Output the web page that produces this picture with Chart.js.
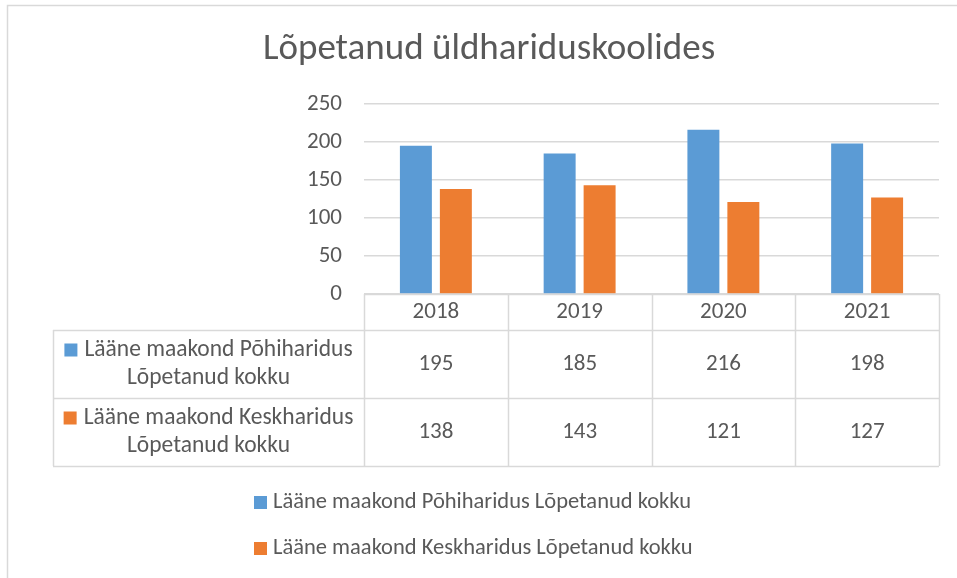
<!DOCTYPE html>
<html>
<head>
<meta charset="utf-8">
<script src="https://cdn.jsdelivr.net/npm/chart.js@4.4.1/dist/chart.umd.min.js"></script>
<style>
  html, body { margin: 0; padding: 0; background: #fff; }
  #wrap { width: 957px; height: 578px; position: relative; }
</style>
</head>
<body>
<div id="wrap"><canvas id="chart" width="957" height="578"></canvas></div>
<script>
// Chart data
const chartTitle = 'Lõpetanud üldhariduskoolides';
const years = ['2018', '2019', '2020', '2021'];
const seriesNames = [
    'Lääne maakond Põhiharidus Lõpetanud kokku',
    'Lääne maakond Keskharidus Lõpetanud kokku'
];
const rowLabelLines = [
    ['Lääne maakond Põhiharidus', 'Lõpetanud kokku'],
    ['Lääne maakond Keskharidus', 'Lõpetanud kokku']
];
const pohiharidus = [195, 185, 216, 198];
const keskharidus = [138, 143, 121, 127];
const seriesColors = ['#5B9BD5', '#ED7D31'];

const FONT = 'Calibri, Carlito, "Liberation Sans", sans-serif';
const TEXT = '#595959';
const LINE = '#D9D9D9';

/**
 * Draws title, outer border, data table and legend (Excel-like)
 */
const excelExtras = {
    id: 'excelExtras',
    beforeDraw(chart) {
        const ctx = chart.ctx;
        ctx.save();
        ctx.fillStyle = '#fff';
        ctx.fillRect(0, 0, chart.width, chart.height);
        // outer border
        ctx.strokeStyle = LINE;
        ctx.lineWidth = 1.5;
        ctx.beginPath();
        ctx.moveTo(7.5, chart.height);
        ctx.lineTo(7.5, 5.5);
        ctx.lineTo(chart.width, 5.5);
        ctx.stroke();
        ctx.restore();
    },
    afterDraw(chart) {
        const ctx = chart.ctx;
        const x = chart.scales.x;
        const area = chart.chartArea;
        const colW = (area.right - area.left) / years.length;
        const tableLeft = 53;
        const headerBottom = area.bottom + 36;
        const rowH = 68;

        ctx.save();

        // title
        ctx.fillStyle = TEXT;
        ctx.font = '37px ' + FONT;
        ctx.textAlign = 'center';
        ctx.textBaseline = 'middle';
        ctx.fillText(chartTitle, 489, 50);

        // table lines
        ctx.strokeStyle = LINE;
        ctx.lineWidth = 1.5;
        ctx.beginPath();
        for (let i = 0; i <= years.length; i++) {
            const lx = Math.round(area.left + i * colW) + 0.5;
            ctx.moveTo(lx, area.bottom);
            ctx.lineTo(lx, headerBottom + rowH * seriesNames.length);
        }
        for (let r = 0; r <= seriesNames.length; r++) {
            const ly = headerBottom + r * rowH + 0.5;
            ctx.moveTo(tableLeft, ly);
            ctx.lineTo(area.right, ly);
        }
        ctx.moveTo(tableLeft + 0.5, headerBottom);
        ctx.lineTo(tableLeft + 0.5, headerBottom + rowH * seriesNames.length);
        ctx.moveTo(area.left, area.bottom + 0.5);
        ctx.lineTo(area.right, area.bottom + 0.5);
        ctx.stroke();

        // header years
        ctx.fillStyle = TEXT;
        ctx.font = '23px ' + FONT;
        years.forEach((y, i) => {
            ctx.fillText(y, x.getPixelForValue(i), area.bottom + 18);
        });

        // values
        const allSeries = [pohiharidus, keskharidus];
        allSeries.forEach((vals, r) => {
            const cy = headerBottom + r * rowH + rowH / 2;
            ctx.font = '23px ' + FONT;
            vals.forEach((v, i) => {
                ctx.fillText(String(v), x.getPixelForValue(i), cy);
            });

            // row label with colour box
            ctx.font = '23.5px ' + FONT;
            const lines = rowLabelLines[r];
            const cx = (tableLeft + area.left) / 2;
            const box = 13, gap = 7;
            const w1 = ctx.measureText(lines[0]).width + box + gap;
            const sx = cx - w1 / 2;
            ctx.fillStyle = seriesColors[r];
            ctx.fillRect(sx, cy - 14 - box / 2, box, box);
            ctx.fillStyle = TEXT;
            ctx.textAlign = 'left';
            ctx.fillText(lines[0], sx + box + gap, cy - 14);
            ctx.textAlign = 'center';
            ctx.fillText(lines[1], cx, cy + 14);
        });

        // legend
        ctx.font = '22.5px ' + FONT;
        ctx.textAlign = 'left';
        seriesNames.forEach((name, r) => {
            const ly = 502 + r * 46;
            ctx.fillStyle = seriesColors[r];
            ctx.fillRect(254, ly - 6, 13, 13);
            ctx.fillStyle = TEXT;
            ctx.fillText(name, 273, ly);
        });

        ctx.restore();
    }
};

new Chart(document.getElementById('chart'), {
    type: 'bar',
    data: {
        labels: years,
        datasets: [{
            label: seriesNames[0],
            data: pohiharidus,
            backgroundColor: seriesColors[0]
        }, {
            label: seriesNames[1],
            data: keskharidus,
            backgroundColor: seriesColors[1]
        }]
    },
    options: {
        responsive: false,
        animation: false,
        layout: {
            padding: { left: 0, right: 18, top: 104, bottom: 284 }
        },
        datasets: {
            bar: { categoryPercentage: 0.556, barPercentage: 0.8 }
        },
        plugins: {
            legend: { display: false },
            title: { display: false },
            tooltip: { enabled: false }
        },
        scales: {
            x: {
                display: false
            },
            y: {
                min: 0,
                max: 250,
                afterFit: s => { s.width = 364; },
                border: { display: false },
                grid: { color: LINE, lineWidth: 1.5, drawTicks: false },
                ticks: {
                    stepSize: 50,
                    padding: 22,
                    color: TEXT,
                    font: { family: FONT, size: 23 }
                }
            }
        }
    },
    plugins: [excelExtras]
});
</script>
</body>
</html>
